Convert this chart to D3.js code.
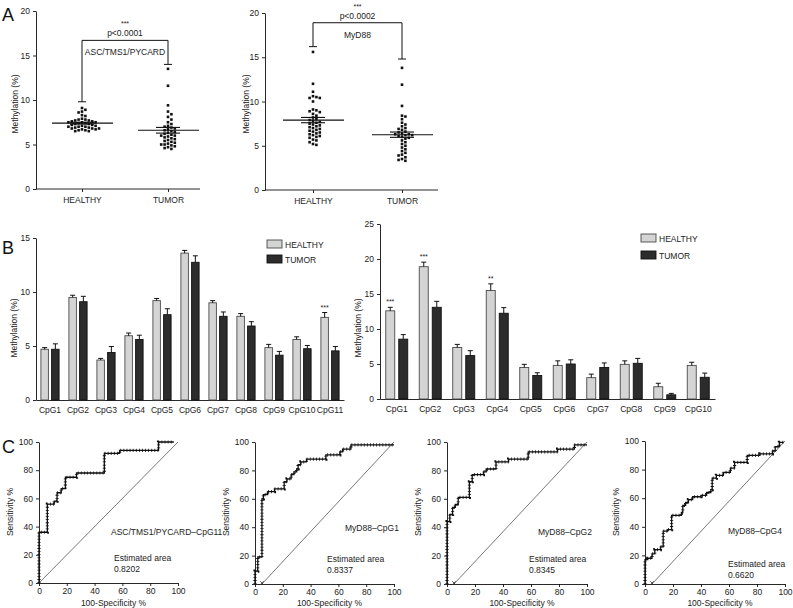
<!DOCTYPE html>
<html>
<head>
<meta charset="utf-8">
<script src="https://cdn.jsdelivr.net/npm/d3@7"></script>
<style>
body { margin: 0; background: #fff; }
svg { font-family: "Liberation Sans", Arial, sans-serif; }
text { fill: #222; }
</style>
</head>
<body>
<script>
// ---- panel A: single values, methylation (%)
var groups = ["HEALTHY", "TUMOR"];
var ascHealthy = [9.1, 8.9, 8.7, 8.6, 8.3, 8.2, 7.9, 7.8, 7.8, 7.7, 7.7, 7.6, 7.6, 7.5, 7.5, 7.5, 7.4, 7.4, 7.3, 7.3,
    7.2, 7.2, 7.1, 7.1, 7.0, 7.0, 7.0, 6.9, 6.9, 6.8, 6.8, 6.8, 6.7, 6.7, 6.6, 6.6, 6.5, 6.5];
var ascTumor = [13.5, 11.6, 9.4, 8.7, 8.4, 8.1, 7.8, 7.5, 7.3, 7.1, 7.0, 6.9, 6.8, 6.7, 6.6, 6.5, 6.4, 6.3, 6.2, 6.1,
    6.0, 6.0, 5.9, 5.8, 5.7, 5.6, 5.5, 5.4, 5.3, 5.2, 5.1, 5.0, 5.0, 4.9, 4.8, 4.7, 4.6, 4.5];
var myHealthy = [15.6, 12.0, 11.1, 10.6, 10.5, 10.4, 10.4, 10.0, 9.1, 9.0, 8.9, 8.8, 8.6, 8.4, 8.2, 8.0, 7.9, 7.8, 7.7, 7.6,
    7.5, 7.4, 7.3, 7.2, 7.1, 7.0, 6.9, 6.8, 6.7, 6.6, 6.5, 6.4, 6.3, 6.2, 6.1, 6.0, 5.9, 5.7, 5.6, 5.4, 5.2, 5.1];
var myTumor = [13.8, 11.9, 9.5, 8.4, 8.3, 8.0, 7.6, 7.4, 7.2, 7.0, 6.9, 6.8, 6.6, 6.5, 6.4, 6.3, 6.3, 6.2, 6.2, 6.1,
    6.0, 5.9, 5.8, 5.6, 5.4, 5.2, 5.0, 4.8, 4.6, 4.4, 4.2, 4.0, 3.9, 3.7, 3.5, 3.4, 3.3];
var ascMean = [7.4, 6.6], ascSem = [0.1, 0.32];
var myMean = [7.9, 6.25], mySem = [0.3, 0.3];
var ascLegs = [9.8, 14.0], ascTop = 16.7;
var myLegs = [16.2, 14.8], myTop = 18.9;

// ---- panel B: mean +/- SEM per CpG
var ascCpg = ["CpG1", "CpG2", "CpG3", "CpG4", "CpG5", "CpG6", "CpG7", "CpG8", "CpG9", "CpG10", "CpG11"];
var ascBarH = [4.7, 9.5, 3.7, 5.95, 9.2, 13.6, 9.0, 7.75, 4.85, 5.6, 7.65];
var ascBarT = [4.7, 9.1, 4.4, 5.6, 7.9, 12.75, 7.75, 6.85, 4.15, 4.75, 4.55];
var ascErrH = [0.15, 0.2, 0.15, 0.25, 0.2, 0.25, 0.2, 0.25, 0.3, 0.25, 0.45];
var ascErrT = [0.5, 0.5, 0.55, 0.4, 0.55, 0.6, 0.4, 0.4, 0.35, 0.3, 0.4];
var ascStars = ["", "", "", "", "", "", "", "", "", "", "***"];

var myCpg = ["CpG1", "CpG2", "CpG3", "CpG4", "CpG5", "CpG6", "CpG7", "CpG8", "CpG9", "CpG10"];
var myBarH = [12.6, 18.9, 7.35, 15.5, 4.5, 4.8, 3.05, 4.95, 1.75, 4.8];
var myBarT = [8.55, 13.1, 6.2, 12.25, 3.35, 5.0, 4.5, 5.1, 0.6, 3.1];
var myErrH = [0.5, 0.65, 0.45, 0.95, 0.45, 0.65, 0.5, 0.5, 0.5, 0.45];
var myErrT = [0.65, 0.85, 0.7, 0.8, 0.4, 0.6, 0.65, 0.7, 0.2, 0.6];
var myStars = ["***", "***", "", "**", "", "", "", "", "", ""];

// ---- panel C: ROC curves, [100-specificity %, sensitivity %]
var rocAsc = [[0, 0], [0, 36], [6, 36], [6, 56], [11, 56], [11, 58], [13, 58], [13, 64], [16, 64], [16, 67], [19, 67],
    [19, 75], [27, 75], [27, 78], [47, 78], [47, 92], [58, 92], [58, 94], [86, 94], [86, 100], [97, 100]];
var rocMy1 = [[0, 0], [0, 9], [2, 9], [2, 19], [5, 19], [5, 60], [6, 60], [6, 63], [9, 63], [9, 65], [14, 65], [14, 67],
    [21, 67], [21, 72], [23, 72], [23, 74], [26, 74], [26, 77], [28, 77], [28, 79], [30, 79], [30, 81], [31, 81], [31, 84],
    [33, 84], [33, 86], [37, 86], [37, 88], [51, 88], [51, 91], [61, 91], [61, 93], [63, 93], [63, 95], [69, 95],
    [69, 98], [100, 98]];
var rocMy2 = [[0, 0], [0, 44], [2, 44], [2, 49], [4, 49], [4, 54], [6, 54], [6, 56], [8, 56], [8, 61], [16, 61],
    [16, 72], [18, 72], [18, 77], [26, 77], [26, 79], [28, 79], [28, 81], [35, 81], [35, 86], [44, 86], [44, 88],
    [58, 88], [58, 93], [79, 93], [79, 95], [91, 95], [91, 98], [100, 98]];
var rocMy4 = [[0, 0], [0, 17], [2, 17], [2, 18], [5, 18], [5, 21], [7, 21], [7, 24], [11, 24], [11, 26], [13, 26],
    [13, 37], [16, 37], [16, 38], [19, 38], [19, 48], [26, 48], [26, 50], [27, 50], [27, 55], [29, 55], [29, 57],
    [31, 57], [31, 59], [34, 59], [34, 61], [40, 61], [40, 62], [44, 62], [44, 64], [47, 64], [47, 66], [48, 66],
    [48, 74], [51, 74], [51, 76], [56, 76], [56, 78], [61, 78], [61, 81], [64, 81], [64, 85], [73, 85], [73, 90],
    [82, 90], [82, 91], [91, 91], [91, 93], [93, 93], [93, 96], [96, 96], [96, 99], [99, 99]];

var svg = d3.select("body").append("svg")
    .attr("width", 793)
    .attr("height", 608);

function styleAxis(g) {
    g.attr("font-family", null).attr("font-size", null);
    g.selectAll("path, line").attr("stroke", "#111").attr("stroke-width", 0.9);
    g.selectAll("text").style("font-size", "8.5px").attr("fill", "#222");
}

function vLabel(x, y, txt) {
    svg.append("text")
        .attr("transform", "translate(" + x + "," + y + ") rotate(-90)")
        .attr("text-anchor", "middle")
        .style("font-size", "8.5px")
        .text(txt);
}

function panelLetter(x, y, txt) {
    svg.append("text").attr("x", x).attr("y", y)
        .style("font-size", "18px")
        .style("fill", "#111")
        .text(txt);
}

// beeswarm placement: x offset for each dot so squares don't overlap
function swarm(values, y, cx, d) {
    var placed = [];
    values.slice().sort(function(a, b) { return b - a; }).forEach(function(v) {
        var cy = y(v);
        for (var k = 0; k < 60; k++) {
            var off = k == 0 ? 0 : (k % 2 ? 1 : -1) * Math.ceil(k / 2) * d;
            var hit = placed.some(function(p) {
                return Math.abs(p.x - (cx + off)) < d * 0.95 && Math.abs(p.y - cy) < d * 0.95;
            });
            if (!hit) { placed.push({ x: cx + off, y: cy }); break; }
        }
    });
    return placed;
}

function drawScatter(c) {
    var y = d3.scaleLinear().domain([0, 20]).range([c.yBot, c.yTop]);
    var x = d3.scalePoint().domain(groups).range(c.cx);

    svg.append("g").attr("transform", "translate(" + c.x0 + ",0)")
        .call(d3.axisLeft(y).tickValues([0, 5, 10, 15, 20]).tickSize(3).tickSizeOuter(0))
        .call(styleAxis);
    svg.append("line")
        .attr("x1", c.x0).attr("x2", c.x1)
        .attr("y1", c.yBot).attr("y2", c.yBot)
        .attr("stroke", "#111").attr("stroke-width", 0.9);
    var xa = svg.append("g").attr("transform", "translate(0," + c.yBot + ")")
        .call(d3.axisBottom(x).tickSize(3).tickPadding(5))
        .call(styleAxis);
    xa.select(".domain").remove();

    [c.healthy, c.tumor].forEach(function(vals, i) {
        var pts = swarm(vals, y, x(groups[i]), 3.4);
        svg.append("g").selectAll("rect")
            .data(pts)
            .enter()
            .append("rect")
            .attr("x", function(d) { return d.x - 1.3; })
            .attr("y", function(d) { return d.y - 1.3; })
            .attr("width", 2.6).attr("height", 2.6)
            .attr("fill", "#111");

        var gx = x(groups[i]);
        var m = svg.append("g").attr("stroke", "#111").attr("stroke-width", 1.1);
        m.append("line").attr("x1", gx - 30).attr("x2", gx + 31)
            .attr("y1", y(c.mean[i])).attr("y2", y(c.mean[i]));
        [-1, 1].forEach(function(s) {
            m.append("line").attr("x1", gx - 12).attr("x2", gx + 12)
                .attr("y1", y(c.mean[i] + s * c.sem[i])).attr("y2", y(c.mean[i] + s * c.sem[i]));
        });
        m.append("line").attr("x1", gx).attr("x2", gx)
            .attr("y1", y(c.mean[i] - c.sem[i])).attr("y2", y(c.mean[i] + c.sem[i]));
    });

    // significance bracket
    var br = svg.append("g").attr("stroke", "#111").attr("stroke-width", 1).attr("fill", "none");
    br.append("line").attr("x1", x("HEALTHY")).attr("x2", x("TUMOR"))
        .attr("y1", y(c.top)).attr("y2", y(c.top));
    groups.forEach(function(g, i) {
        br.append("line").attr("x1", x(g)).attr("x2", x(g))
            .attr("y1", y(c.top)).attr("y2", y(c.legs[i]));
        br.append("line").attr("x1", x(g) - 4).attr("x2", x(g) + 4)
            .attr("y1", y(c.legs[i])).attr("y2", y(c.legs[i]));
    });
    var mid = (x("HEALTHY") + x("TUMOR")) / 2;
    svg.append("text").attr("x", mid).attr("y", y(c.top) - 14)
        .attr("text-anchor", "middle").style("font-size", "7px").text("***");
    svg.append("text").attr("x", mid).attr("y", y(c.top) - 4)
        .attr("text-anchor", "middle").style("font-size", "8.5px").text(c.p);
    svg.append("text").attr("x", mid).attr("y", y(c.top) + 15)
        .attr("text-anchor", "middle").style("font-size", "8.5px").text(c.gene);
    vLabel(c.labelX, 104, "Methylation (%)");
}

function drawBars(c) {
    var y = d3.scaleLinear().domain([0, c.max]).range([c.yBot, c.yTop]);
    var x = d3.scaleBand().domain(c.cats).range([c.x0, c.x1]);

    svg.append("g").attr("transform", "translate(" + c.x0 + ",0)")
        .call(d3.axisLeft(y).tickValues(d3.range(0, c.max + 1, 5)).tickSize(3).tickSizeOuter(0))
        .call(styleAxis);
    svg.append("g").attr("transform", "translate(0," + c.yBot + ")")
        .call(d3.axisBottom(x).tickSize(0).tickPadding(7))
        .call(styleAxis);

    var series = [
        { v: c.h, e: c.he, fill: "#d4d4d4", stroke: "#4a4a4a", dx: -c.gap / 2 - c.w },
        { v: c.t, e: c.te, fill: "#2c2c2c", stroke: "#111", dx: c.gap / 2 }
    ];
    series.forEach(function(s) {
        var g = svg.append("g");
        g.selectAll("rect")
            .data(c.cats)
            .enter()
            .append("rect")
            .attr("x", function(d) { return x(d) + x.bandwidth() / 2 + s.dx; })
            .attr("y", function(d, i) { return y(s.v[i]); })
            .attr("width", c.w)
            .attr("height", function(d, i) { return c.yBot - y(s.v[i]); })
            .attr("fill", s.fill)
            .attr("stroke", s.stroke)
            .attr("stroke-width", 0.9);
        c.cats.forEach(function(d, i) {
            var bx = x(d) + x.bandwidth() / 2 + s.dx + c.w / 2;
            g.append("line").attr("x1", bx).attr("x2", bx)
                .attr("y1", y(s.v[i])).attr("y2", y(s.v[i] + s.e[i]))
                .attr("stroke", "#111").attr("stroke-width", 1);
            g.append("line").attr("x1", bx - 2.5).attr("x2", bx + 2.5)
                .attr("y1", y(s.v[i] + s.e[i])).attr("y2", y(s.v[i] + s.e[i]))
                .attr("stroke", "#111").attr("stroke-width", 1);
        });
    });

    c.stars.forEach(function(st, i) {
        if (!st) return;
        var bx = x(c.cats[i]) + x.bandwidth() / 2 + series[0].dx + c.w / 2;
        svg.append("text").attr("x", bx).attr("y", y(c.h[i] + c.he[i]) - 3)
            .attr("text-anchor", "middle").style("font-size", "7px").text(st);
    });

    // legend
    [["HEALTHY", series[0]], ["TUMOR", series[1]]].forEach(function(l, i) {
        var ly = c.legY + i * c.legStep;
        svg.append("rect").attr("x", c.legX).attr("y", ly)
            .attr("width", 15).attr("height", 8)
            .attr("fill", l[1].fill).attr("stroke", l[1].stroke).attr("stroke-width", 0.9);
        svg.append("text").attr("x", c.legX + 18).attr("y", ly + 7.5)
            .style("font-size", "8.5px").text(l[0]);
    });
    vLabel(c.labelX, 328, "Methylation (%)");
}

function drawRoc(c) {
    var x = d3.scaleLinear().domain([0, 100]).range([c.x0, c.x1]);
    var y = d3.scaleLinear().domain([0, 100]).range([c.yBot, c.yTop]);
    var ticks = [0, 20, 40, 60, 80, 100];

    svg.append("g").attr("transform", "translate(" + c.x0 + ",0)")
        .call(d3.axisLeft(y).tickValues(ticks).tickSize(3).tickSizeOuter(0))
        .call(styleAxis);
    svg.append("g").attr("transform", "translate(0," + c.yBot + ")")
        .call(d3.axisBottom(x).tickValues(ticks).tickSize(3).tickPadding(2).tickSizeOuter(0))
        .call(styleAxis);

    svg.append("line")
        .attr("x1", x(c.diag)).attr("y1", y(0))
        .attr("x2", x(100)).attr("y2", y(100))
        .attr("stroke", "#555").attr("stroke-width", 0.8);
    if (c.diag > 0) {
        svg.append("path")
            .attr("d", d3.symbol(d3.symbolX, 10)())
            .attr("transform", "translate(" + x(c.diag) + "," + (y(0) - 1) + ")")
            .attr("stroke", "#333").attr("stroke-width", 0.8).attr("fill", "none");
    }

    var line = d3.line().x(function(d) { return x(d[0]); }).y(function(d) { return y(d[1]); });
    svg.append("path").datum(c.pts)
        .attr("d", line)
        .attr("fill", "none").attr("stroke", "#111").attr("stroke-width", 1.3);
    svg.append("path").datum(c.pts)
        .attr("d", line)
        .attr("fill", "none").attr("stroke", "#111").attr("stroke-width", 3.2)
        .attr("stroke-dasharray", "0.8,2.3");

    svg.append("text").attr("x", c.nameX).attr("y", c.nameY)
        .style("font-size", "8.5px").text(c.name);
    svg.append("text").attr("x", c.areaX).attr("y", c.areaY)
        .style("font-size", "8.5px").text("Estimated area");
    svg.append("text").attr("x", c.areaX).attr("y", c.areaY + 11)
        .style("font-size", "8.5px").text(c.area);

    vLabel(c.x0 - 26, 512, "Sensitivity %");
    svg.append("text").attr("x", (c.x0 + c.x1) / 2 + 5).attr("y", 606)
        .attr("text-anchor", "middle").style("font-size", "8.5px").text("100-Specificity %");
}

// ---- A
panelLetter(2, 21, "A");
drawScatter({ x0: 36, x1: 200, yBot: 189, yTop: 11, cx: [82, 168], healthy: ascHealthy, tumor: ascTumor,
    mean: ascMean, sem: ascSem, legs: ascLegs, top: ascTop, p: "p<0.0001", gene: "ASC/TMS1/PYCARD", labelX: 18 });
drawScatter({ x0: 265, x1: 438, yBot: 190, yTop: 13, cx: [313, 402], healthy: myHealthy, tumor: myTumor,
    mean: myMean, sem: mySem, legs: myLegs, top: myTop, p: "p<0.0002", gene: "MyD88", labelX: 249 });

// ---- B
panelLetter(2, 254, "B");
drawBars({ x0: 36, x1: 344, yBot: 400, yTop: 238, max: 15, cats: ascCpg, h: ascBarH, t: ascBarT,
    he: ascErrH, te: ascErrT, stars: ascStars, w: 7.5, gap: 3.2, legX: 267, legY: 240, legStep: 15, labelX: 17 });
drawBars({ x0: 380, x1: 715, yBot: 399, yTop: 224, max: 25, cats: myCpg, h: myBarH, t: myBarT,
    he: myErrH, te: myErrT, stars: myStars, w: 9, gap: 4, legX: 641, legY: 234, legStep: 17, labelX: 361 });

// ---- C
panelLetter(2, 453, "C");
drawRoc({ x0: 39, x1: 178, yTop: 442, yBot: 583, pts: rocAsc, diag: 0, name: "ASC/TMS1/PYCARD\u2013CpG11",
    nameX: 111, nameY: 535, areaX: 114, areaY: 561, area: "0.8202" });
drawRoc({ x0: 255, x1: 394, yTop: 442, yBot: 584, pts: rocMy1, diag: 5, name: "MyD88\u2013CpG1",
    nameX: 345, nameY: 531, areaX: 327, areaY: 562, area: "0.8337" });
drawRoc({ x0: 447, x1: 587, yTop: 442, yBot: 584, pts: rocMy2, diag: 5, name: "MyD88\u2013CpG2",
    nameX: 538, nameY: 535, areaX: 529, areaY: 562, area: "0.8345" });
drawRoc({ x0: 645, x1: 785, yTop: 441, yBot: 584, pts: rocMy4, diag: 5, name: "MyD88\u2013CpG4",
    nameX: 728, nameY: 534, areaX: 728, areaY: 567, area: "0.6620" });
</script>
</body>
</html>
